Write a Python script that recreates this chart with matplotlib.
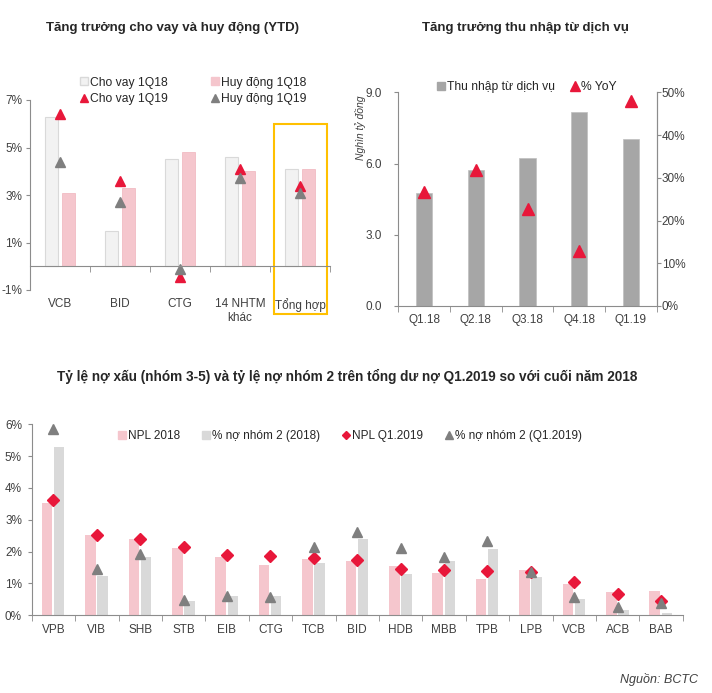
import matplotlib.pyplot as plt
from matplotlib.lines import Line2D
from matplotlib.patches import Rectangle
from matplotlib.ticker import FixedLocator, FuncFormatter
import numpy as np

plt.rcParams['font.family'] = ['Liberation Sans', 'DejaVu Sans']
plt.rcParams['font.size'] = 8.5
plt.rcParams['text.color'] = '#262626'

# ---- data: chart 1 (YTD growth, %)
banks1 = ['VCB', 'BID', 'CTG', '14 NHTM\nkhác', 'Tổng hợp']
loan_1q18 = [6.3, 1.5, 4.5, 4.6, 4.1]
dep_1q18 = [3.1, 3.3, 4.8, 4.0, 4.1]
loan_1q19 = [6.4, 3.6, -0.45, 4.1, 3.4]
dep_1q19 = [4.4, 2.7, -0.1, 3.7, 3.1]

# ---- data: chart 2 (fee income, thousand bn VND / % YoY)
quarters = ['Q1.18', 'Q2.18', 'Q3.18', 'Q4.18', 'Q1.19']
fee_income = [4.75, 5.73, 6.25, 8.15, 7.02]
fee_yoy = [26.6, 31.8, 22.7, 12.8, 47.9]

# ---- data: chart 3 (NPL and group-2 debt ratio, %)
banks3 = ['VPB', 'VIB', 'SHB', 'STB', 'EIB', 'CTG', 'TCB', 'BID', 'HDB',
          'MBB', 'TPB', 'LPB', 'VCB', 'ACB', 'BAB']
npl_2018 = [3.52, 2.52, 2.41, 2.12, 1.84, 1.57, 1.76, 1.70, 1.54, 1.33,
            1.13, 1.42, 0.99, 0.73, 0.76]
g2_2018 = [5.30, 1.23, 1.83, 0.44, 0.61, 0.62, 1.63, 2.41, 1.31, 1.71,
           2.07, 1.21, 0.50, 0.17, 0.07]
npl_q119 = [3.63, 2.53, 2.41, 2.14, 1.89, 1.86, 1.80, 1.75, 1.46, 1.42,
            1.40, 1.36, 1.05, 0.68, 0.44]
g2_q119 = [5.84, 1.44, 1.91, 0.48, 0.60, 0.56, 2.16, 2.61, 2.10, 1.84,
           2.34, 1.36, 0.57, 0.27, 0.40]

RED = '#e8173a'
GREY_TRI = '#7f7f7f'
PINK = '#f5c6cd'
LGREY = '#d9d9d9'
AXC = '#8c8c8c'
LBL = '#404040'

W, H = 712, 693
fig = plt.figure(figsize=(W / 100, H / 100), dpi=100)


def box(l, t, r, b):
    return [l / W, 1 - b / H, (r - l) / W, (b - t) / H]


def style_axis(ax, n):
    for s in ['top', 'right']:
        ax.spines[s].set_visible(False)
    for s in ['left', 'bottom', 'right']:
        ax.spines[s].set_color(AXC)
        ax.spines[s].set_linewidth(0.8)
    ax.set_xlim(-0.5, n - 0.5)
    ax.set_xticks(range(n))
    ax.xaxis.set_minor_locator(FixedLocator(np.arange(-0.5, n, 1.0)))
    ax.tick_params(axis='x', which='major', length=0, labelcolor=LBL)
    ax.tick_params(axis='x', which='minor', length=4, direction='out', color=AXC)
    ax.tick_params(axis='y', length=3, direction='out', color=AXC, labelcolor=LBL)


# ================= chart 1 =================
ax1 = fig.add_axes(box(30, 100, 330, 290))
style_axis(ax1, len(banks1))
x1 = np.arange(len(banks1))
ax1.bar(x1 - 0.14, loan_1q18, 0.22, color='#f2f2f2', edgecolor=LGREY, linewidth=0.8)
ax1.bar(x1 + 0.145, dep_1q18, 0.22, color=PINK, edgecolor='#f0b3bc', linewidth=0.5)
ax1.plot(x1, loan_1q19, '^', color=RED, markersize=7.5, linestyle='none')
ax1.plot(x1, dep_1q19, '^', color=GREY_TRI, markersize=7.5, linestyle='none')
ax1.set_ylim(-1, 7)
ax1.set_yticks([-1, 1, 3, 5, 7])
ax1.yaxis.set_major_formatter(FuncFormatter(lambda v, p: f'{v:.0f}%'))
ax1.tick_params(axis='y', pad=2.5)
ax1.spines['bottom'].set_position(('data', 0))
ax1.set_xticklabels(banks1)
ax1.tick_params(axis='x', which='major', pad=23)
ax1.add_patch(Rectangle((3.57, -2.03), 0.88, 8.03, fill=False,
                        edgecolor='#ffc000', linewidth=1.5, clip_on=False))
h1 = [Line2D([], [], marker='s', ls='none', color='#f2f2f2', mec=LGREY, ms=5.5),
      Line2D([], [], marker='^', ls='none', color=RED, ms=5.5),
      Line2D([], [], marker='s', ls='none', color=PINK, mec=PINK, ms=5.5),
      Line2D([], [], marker='^', ls='none', color=GREY_TRI, ms=5.5)]
fig.legend(h1, ['Cho vay 1Q18', 'Cho vay 1Q19', 'Huy động 1Q18', 'Huy động 1Q19'],
           ncol=2, loc='center', bbox_to_anchor=(193 / W, 1 - 91 / H),
           frameon=False, handlelength=0.6, handletextpad=0.2,
           columnspacing=3.6, labelspacing=0.4, fontsize=8.7)
fig.text(172 / W, 1 - 28 / H, 'Tăng trưởng cho vay và huy động (YTD)',
         ha='center', va='center', fontsize=9.5, fontweight='bold')

# ================= chart 2 =================
ax2 = fig.add_axes(box(398.3, 92.3, 656.7, 306))
style_axis(ax2, len(quarters))
ax2.spines['right'].set_visible(True)
x2 = np.arange(len(quarters))
ax2.bar(x2, fee_income, 0.32, color='#a6a6a6', edgecolor='#bfbfbf', linewidth=0.5)
ax2.set_ylim(0, 9)
ax2.set_yticks([0, 3, 6, 9])
ax2.yaxis.set_major_formatter(FuncFormatter(lambda v, p: f'{v:.1f}'))
ax2.tick_params(axis='y', pad=9)
ax2.set_xticklabels(quarters)
ax2.tick_params(axis='x', which='major', pad=6)
ax2r = ax2.twinx()
ax2r.plot(x2, fee_yoy, '^', color=RED, markersize=8.5, linestyle='none')
ax2r.set_ylim(0, 50)
ax2r.set_yticks(range(0, 51, 10))
ax2r.yaxis.set_major_formatter(FuncFormatter(lambda v, p: f'{v:.0f}%'))
ax2r.tick_params(axis='y', length=3, direction='out', color=AXC, labelcolor=LBL, pad=0.5)
for s in ['top', 'left', 'bottom']:
    ax2r.spines[s].set_visible(False)
ax2r.spines['right'].set_color(AXC)
ax2r.spines['right'].set_linewidth(0.8)
h2 = [Line2D([], [], marker='s', ls='none', color='#a6a6a6', ms=5.5),
      Line2D([], [], marker='^', ls='none', color=RED, ms=6.5)]
fig.legend(h2, ['Thu nhập từ dịch vụ', '% YoY'], ncol=2, loc='center',
           bbox_to_anchor=(527 / W, 1 - 87 / H), frameon=False,
           handlelength=0.6, handletextpad=0.2, columnspacing=1.4, fontsize=8.7)
fig.text(360 / W, 1 - 128 / H, 'Nghìn tỷ đồng', rotation=90, ha='center',
         va='center', fontsize=7.5, style='italic', color=LBL)
fig.text(525 / W, 1 - 28 / H, 'Tăng trưởng thu nhập từ dịch vụ',
         ha='center', va='center', fontsize=9.5, fontweight='bold')

# ================= chart 3 =================
ax3 = fig.add_axes(box(31.7, 424.3, 682.7, 615.3))
style_axis(ax3, len(banks3))
x3 = np.arange(len(banks3))
ax3.bar(x3 - 0.145, npl_2018, 0.24, color=PINK)
ax3.bar(x3 + 0.135, g2_2018, 0.24, color=LGREY)
ax3.plot(x3, npl_q119, 'D', color=RED, markersize=6.5, linestyle='none')
ax3.plot(x3, g2_q119, '^', color=GREY_TRI, markersize=7.5, linestyle='none')
ax3.set_ylim(0, 6)
ax3.set_yticks(range(0, 7))
ax3.yaxis.set_major_formatter(FuncFormatter(lambda v, p: f'{v:.0f}%'))
ax3.tick_params(axis='y', pad=4)
ax3.set_xticklabels(banks3)
ax3.tick_params(axis='x', which='major', pad=6)
h3 = [Line2D([], [], marker='s', ls='none', color=PINK, ms=5.5),
      Line2D([], [], marker='s', ls='none', color=LGREY, ms=5.5),
      Line2D([], [], marker='D', ls='none', color=RED, ms=4),
      Line2D([], [], marker='^', ls='none', color=GREY_TRI, ms=5.5)]
fig.legend(h3, ['NPL 2018', '% nợ nhóm 2 (2018)', 'NPL Q1.2019', '% nợ nhóm 2 (Q1.2019)'],
           ncol=4, loc='center', bbox_to_anchor=(350 / W, 1 - 436 / H),
           frameon=False, handlelength=0.6, handletextpad=0.2,
           columnspacing=1.9, fontsize=8.5)
fig.text(347 / W, 1 - 376 / H,
         'Tỷ lệ nợ xấu (nhóm 3-5) và tỷ lệ nợ nhóm 2 trên tổng dư nợ Q1.2019 so với cuối năm 2018',
         ha='center', va='center', fontsize=9.8, fontweight='bold')
fig.text(698 / W, 1 - 680 / H, 'Nguồn: BCTC', ha='right', va='center',
         fontsize=9, style='italic', color=LBL)

fig.savefig('out.png', dpi=100)
